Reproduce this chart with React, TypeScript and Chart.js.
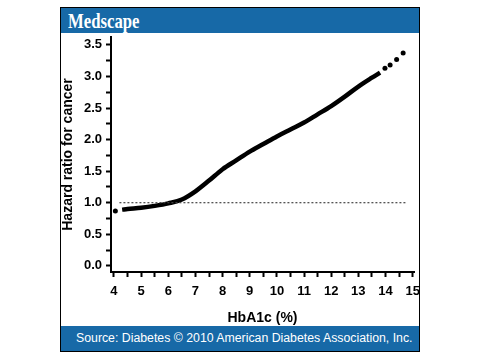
import React, { useEffect, useRef } from "react";
import { Chart, registerables } from "chart.js";

Chart.register(...registerables);

// Fitted hazard-ratio curve (HbA1c %, hazard ratio)
const curveX = [4.3, 4.5, 5.0, 5.5, 6.0, 6.5, 7.0, 7.5, 8.0, 8.5, 9.0, 9.5, 10.0, 10.5, 11.0, 11.5, 12.0, 12.5, 13.0, 13.5, 13.8];
const curveY = [0.89, 0.9, 0.92, 0.95, 0.99, 1.05, 1.18, 1.35, 1.53, 1.67, 1.81, 1.93, 2.05, 2.16, 2.27, 2.4, 2.53, 2.68, 2.84, 2.98, 3.06];

// Isolated points at the extremes
const dotX = [4.05, 13.98, 14.17, 14.41, 14.65];
const dotY = [0.87, 3.13, 3.18, 3.27, 3.37];

// Reference line HR = 1
const refX = [4.2, 14.8];
const refY = [1, 1];

// Axis ticks
const xTicks = [4, 4.5, 5, 5.5, 6, 6.5, 7, 7.5, 8, 8.5, 9, 9.5, 10, 10.5, 11, 11.5, 12, 12.5, 13, 13.5, 14, 14.5, 15];
const yTicks = [0, 0.25, 0.5, 0.75, 1, 1.25, 1.5, 1.75, 2, 2.25, 2.5, 2.75, 3, 3.25, 3.5];

const BLUE = "#1769a7";
const FONT = "'Liberation Sans', Arial, sans-serif";

export default function App() {
  const ref = useRef<HTMLCanvasElement>(null);

  useEffect(() => {
    const toPts = (xs: number[], ys: number[]) => xs.map((x, i) => ({ x, y: ys[i] }));
    const chart = new Chart(ref.current!, {
      type: "line",
      data: {
        datasets: [
          {
            data: toPts(refX, refY),
            borderColor: "#444",
            borderWidth: 1.2,
            borderDash: [2, 2],
            pointRadius: 0,
            fill: false,
          },
          {
            data: toPts(curveX, curveY),
            borderColor: "#000",
            borderWidth: 4.5,
            pointRadius: 0,
            cubicInterpolationMode: "monotone",
            fill: false,
          },
          {
            data: toPts(dotX, dotY),
            showLine: false,
            pointRadius: 2.5,
            pointBackgroundColor: "#000",
            pointBorderColor: "#000",
            pointBorderWidth: 0,
          },
        ],
      },
      options: {
        animation: false,
        responsive: false,
        maintainAspectRatio: false,
        layout: { padding: { left: 0, right: 5, top: 0, bottom: 0 } },
        plugins: { legend: { display: false }, tooltip: { enabled: false } },
        scales: {
          x: {
            type: "linear",
            min: 3.89,
            max: 15.05,
            afterBuildTicks: (s: any) => {
              s.ticks = xTicks.map((v) => ({ value: v }));
            },
            afterFit: (s: any) => {
              s.height = 54;
              s.paddingLeft = 0;
              s.paddingRight = 0;
            },
            ticks: {
              autoSkip: false,
              maxRotation: 0,
              padding: 7,
              color: "#000",
              font: { family: FONT, size: 13, weight: "bold" },
              callback: (v: any) => (Number.isInteger(Number(v)) ? String(v) : ""),
            },
            grid: { drawOnChartArea: false, drawTicks: true, tickLength: 5, tickWidth: 2, tickColor: "#000" },
            border: { display: true, color: "#000", width: 2 },
            title: {
              display: true,
              text: "HbA1c (%)",
              color: "#000",
              font: { family: FONT, size: 14, weight: "bold", lineHeight: 1 },
              padding: { top: 1, bottom: 1 },
            },
          },
          y: {
            type: "linear",
            min: -0.098,
            max: 3.625,
            afterBuildTicks: (s: any) => {
              s.ticks = yTicks.map((v) => ({ value: v }));
            },
            afterFit: (s: any) => {
              s.width = 50;
              s.paddingTop = 0;
              s.paddingBottom = 0;
            },
            ticks: {
              autoSkip: false,
              padding: 4,
              color: "#000",
              font: { family: FONT, size: 13, weight: "bold" },
              callback: (v: any) => (Math.abs(Number(v) * 2 - Math.round(Number(v) * 2)) < 1e-9 ? Number(v).toFixed(1) : ""),
            },
            grid: { drawOnChartArea: false, drawTicks: true, tickLength: 5, tickWidth: 2, tickColor: "#000" },
            border: { display: true, color: "#000", width: 2 },
            title: {
              display: true,
              text: "Hazard ratio for cancer",
              color: "#000",
              font: { family: FONT, size: 14, weight: "bold", lineHeight: 1 },
              padding: { top: 0, bottom: 0 },
            },
          },
        },
      },
    } as any);
    return () => chart.destroy();
  }, []);

  return (
    <div
      style={{
        position: "absolute",
        left: 60,
        top: 7,
        width: 360,
        height: 345,
        border: "1px solid #000",
        boxSizing: "border-box",
        background: "#fff",
        overflow: "hidden",
      }}
    >
      <div style={{ height: 25, background: BLUE, position: "relative" }}>
        <span
          style={{
            position: "absolute",
            left: 7,
            top: 0,
            fontFamily: "'Liberation Serif', 'Times New Roman', serif",
            fontWeight: "bold",
            fontSize: 22,
            lineHeight: "25px",
            color: "#fff",
            transform: "scaleX(0.76)",
            transformOrigin: "left center",
            whiteSpace: "nowrap",
          }}
        >
          Medscape
        </span>
      </div>
      <div style={{ height: 293 }}>
        <canvas ref={ref} width={358} height={293} style={{ display: "block", width: 358, height: 293 }} />
      </div>
      <div
        style={{
          height: 25,
          background: BLUE,
          color: "#fff",
          fontFamily: FONT,
          fontSize: 12.3,
          lineHeight: "25px",
          paddingLeft: 15,
          whiteSpace: "nowrap",
        }}
      >
        Source: Diabetes © 2010 American Diabetes Association, Inc.
      </div>
    </div>
  );
}
